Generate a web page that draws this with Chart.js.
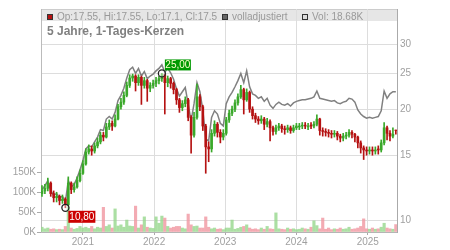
<!DOCTYPE html>
<html>
<head>
<meta charset="utf-8">
<script src="https://cdn.jsdelivr.net/npm/chart.js@4/dist/chart.umd.min.js"></script>
<style>
  html, body { margin: 0; padding: 0; background: #fff; }
  canvas { display: block; }
</style>
</head>
<body>
<canvas id="chart" width="450" height="250"></canvas>
<script>
// candles, one per 15 days
const opens = [
  11.8,12.0,12.2,12.6,11.8,11.5,11.6,11.3,11.4,11.0,
  12.6,12.1,12.3,12.8,13.4,14.2,15.3,15.6,15.4,15.9,
  16.3,17.0,16.8,17.9,18.3,18.0,18.8,20.3,20.9,21.8,
  23.2,24.3,24.6,23.6,24.4,23.2,23.9,22.8,23.2,23.5,
  23.9,24.2,24.8,23.6,24.2,23.5,22.6,21.2,20.2,20.7,
  21.2,19.0,17.0,19.0,21.6,20.3,18.0,15.8,15.6,17.2,
  18.2,17.3,16.8,17.2,18.7,19.5,20.0,20.8,21.6,22.6,
  21.2,22.2,20.0,19.2,18.8,18.6,18.8,18.2,18.5,17.8,
  17.4,17.8,18.0,17.7,17.6,17.8,17.5,17.8,17.9,18.0,
  18.1,17.9,18.1,18.0,18.2,18.8,17.5,17.4,17.3,17.2,
  17.1,17.2,16.9,16.7,16.9,17.0,17.3,17.1,16.8,16.2,
  15.7,15.5,15.4,15.5,15.4,15.6,15.5,16.2,17.8,17.2,
  16.9,17.55
];
const highs = [
  12.4,12.5,13.0,12.7,12.0,11.9,11.7,11.7,11.5,13.1,
  12.7,12.6,13.1,13.7,14.5,15.6,16.0,15.9,16.2,16.7,
  17.3,17.3,18.3,18.7,18.6,19.3,20.6,21.4,22.3,23.7,
  24.8,24.9,24.8,24.8,24.6,24.4,24.1,23.6,24.0,24.4,
  24.6,25.0,24.9,24.6,24.4,23.7,22.8,21.4,21.1,21.6,
  21.4,19.2,19.6,23.4,21.9,20.5,18.2,16.3,17.6,18.6,
  18.4,17.6,17.6,19.0,19.9,20.4,21.2,22.0,23.2,22.8,
  22.7,22.4,20.3,19.5,19.1,19.2,19.0,18.9,18.7,18.0,
  18.1,18.3,18.2,18.0,18.1,18.0,18.1,18.3,18.3,18.4,
  18.4,18.3,18.4,18.5,19.3,18.9,17.8,17.7,17.6,17.5,
  17.5,17.4,17.1,17.2,17.3,17.6,17.5,17.2,16.9,16.4,
  15.9,15.8,15.8,15.8,15.8,15.9,16.5,18.4,18.0,17.5,
  17.8,17.55
];
const lows = [
  11.6,11.8,12.0,11.6,11.2,11.2,11.0,11.1,10.8,10.9,
  11.8,11.9,12.2,12.7,13.3,14.1,15.1,15.0,15.2,15.7,
  16.1,16.4,16.7,17.6,17.5,17.9,18.7,20.0,20.6,21.6,
  22.9,23.8,22.4,23.2,20.6,22.8,21.0,22.3,22.8,23.0,
  23.4,23.8,19.4,23.0,22.8,22.0,20.6,19.6,19.8,20.3,
  18.6,15.2,16.8,18.8,19.8,17.5,13.4,14.4,15.3,16.9,
  16.8,16.2,16.5,17.0,18.4,19.2,19.7,20.5,21.4,19.4,
  21.0,19.6,18.8,18.4,18.2,18.3,17.6,17.9,16.4,17.0,
  17.1,17.5,17.3,17.1,17.3,17.2,17.3,17.6,17.6,17.7,
  17.7,17.6,17.7,17.8,18.0,17.0,16.9,16.9,16.8,16.7,
  16.8,16.5,16.3,16.4,16.6,16.8,16.7,16.3,15.7,15.2,
  14.6,15.0,15.1,15.0,15.1,15.1,15.3,16.0,16.5,16.4,
  16.7,17.1
];
const closes = [
  12.0,12.2,12.6,11.8,11.5,11.6,11.3,11.4,11.0,12.6,
  12.1,12.3,12.8,13.4,14.2,15.3,15.6,15.4,15.9,16.3,
  17.0,16.8,17.9,18.3,18.0,18.8,20.3,20.9,21.8,23.2,
  24.3,24.6,23.6,24.4,23.2,23.9,22.8,23.2,23.5,23.9,
  24.2,24.8,23.6,24.2,23.5,22.6,21.2,20.2,20.7,21.2,
  19.0,17.0,19.0,21.6,20.3,18.0,15.8,15.6,17.2,18.2,
  17.3,16.8,17.2,18.7,19.5,20.0,20.8,21.6,22.6,21.2,
  22.2,20.0,19.2,18.8,18.6,18.8,18.2,18.5,17.8,17.4,
  17.8,18.0,17.7,17.6,17.8,17.5,17.8,18.0,18.0,18.1,
  18.0,18.0,18.0,18.2,18.8,17.5,17.4,17.3,17.2,17.1,
  17.2,16.9,16.7,16.9,17.0,17.3,17.1,16.8,16.2,15.7,
  15.5,15.4,15.5,15.4,15.5,15.5,16.2,17.8,17.2,16.9,
  17.1,17.5
];
// volladjustiert (grey line)
const adjusted = [
  12.1,12.4,12.8,12.0,11.7,11.8,11.5,11.6,11.2,12.8,
  12.3,12.5,13.0,13.7,14.5,15.6,15.9,15.8,16.3,16.8,
  17.6,17.5,18.8,19.1,18.8,19.6,21.1,21.8,22.8,24.3,
  25.6,26.0,25.0,25.8,24.6,25.3,24.2,24.6,24.9,25.4,
  25.8,26.4,25.2,25.8,25.1,24.1,22.7,21.7,22.3,22.9,
  20.6,18.6,20.7,23.6,22.3,19.9,16.6,16.4,19.0,19.8,
  19.4,18.3,18.0,20.7,21.6,22.2,23.0,23.9,25.0,23.6,
  25.4,23.0,22.0,21.8,21.4,21.6,21.0,21.4,20.5,20.1,
  20.6,20.9,20.6,20.5,20.7,20.4,20.8,21.0,21.1,21.2,
  21.2,21.3,21.4,21.6,22.4,21.4,21.3,21.2,21.1,21.0,
  21.1,20.8,20.7,20.9,21.0,21.4,21.3,20.9,19.9,19.4,
  19.1,18.9,19.0,18.9,19.0,19.1,19.8,22.4,21.4,22.0,
  22.3,22.3
];
// volume in thousands
const volumes = [
  12,8,10,7,8,6,7,6,14,62,
  10,7,9,14,10,12,9,14,8,12,
  10,62,14,18,10,58,15,18,12,30,
  15,14,65,10,18,38,12,10,9,38,
  22,40,35,14,10,12,14,14,10,8,
  45,18,14,15,10,10,38,12,8,10,
  7,8,6,10,10,30,7,9,12,14,
  18,10,7,8,6,10,7,14,8,7,
  48,8,7,6,10,7,8,6,7,10,
  8,7,12,28,16,8,35,7,10,6,
  8,7,10,7,8,12,7,8,10,14,
  33,8,7,10,7,8,12,22,10,8,
  7,18.68
];
const yearTicks = [2021, 2022, 2023, 2024, 2025];
const priceTicks = [10, 15, 20, 25, 30];
const volumeTicks = [0, 50, 100, 150];

const firstDay = Date.UTC(2020, 5, 5);
const stepDays = 15;
const days = closes.map((c, i) => firstDay + i * stepDays * 864e5);

const FONT = '"Liberation Sans", Arial, sans-serif';
const RED = '#b51212';
const GREEN = '#3aa82a';
const isUp = i => closes[i] >= opens[i];

const hiIdx = highs.indexOf(Math.max(...highs));
const loIdx = lows.indexOf(Math.min(...lows));
const last = closes.length - 1;

const fmt = v => v.toFixed(2).replace('.', ',');

const overlay = {
  id: 'overlay',
  beforeDraw(chart) {
    const { ctx, chartArea: a } = chart;
    ctx.save();
    ctx.fillStyle = '#e6e6e6';
    ctx.fillRect(a.left, a.top, a.right - a.left, 12);
    ctx.strokeStyle = '#cccccc';
    ctx.lineWidth = 1;
    ctx.beginPath();
    ctx.moveTo(a.left, a.top + 0.5);
    ctx.lineTo(a.right, a.top + 0.5);
    ctx.stroke();
    ctx.restore();
  },
  afterDraw(chart) {
    const { ctx, chartArea: a, scales } = chart;
    ctx.save();
    // legend row
    const items = [
      [a.left + 6, RED, `Op:${opens[last]}, Hi:${highs[last]}, Lo:${lows[last]}, Cl:${closes[last]}`],
      [a.left + 181, '#666666', 'volladjustiert'],
      [a.left + 261, '#dddddd', `Vol: ${volumes[last]}K`]
    ];
    ctx.font = '10px ' + FONT;
    ctx.textBaseline = 'alphabetic';
    items.forEach(([x, col, txt]) => {
      ctx.fillStyle = col;
      ctx.fillRect(x, a.top + 5, 6, 6);
      ctx.strokeStyle = '#333333';
      ctx.lineWidth = 1;
      ctx.strokeRect(x + 0.5, a.top + 5.5, 5, 5);
      ctx.fillStyle = '#999999';
      ctx.fillText(txt, x + 10, a.top + 10.5);
    });
    // title
    ctx.font = 'bold 12px ' + FONT;
    ctx.fillStyle = '#808080';
    ctx.fillText('5 Jahre, 1-Tages-Kerzen', a.left + 6, a.top + 26);

    // high / low labels
    const xs = scales.x, ys = scales.yPrice;
    const hx = xs.getPixelForValue(days[hiIdx]), hy = ys.getPixelForValue(highs[hiIdx]);
    const lx = xs.getPixelForValue(days[loIdx]), ly = ys.getPixelForValue(lows[loIdx]);
    ctx.font = '10px ' + FONT;
    ctx.textAlign = 'center';
    ctx.textBaseline = 'middle';
    ctx.fillStyle = '#009900';
    ctx.fillRect(hx + 3, hy - 14, 26, 11);
    ctx.fillStyle = '#ffffcc';
    ctx.fillText(fmt(highs[hiIdx]), hx + 16, hy - 8);
    ctx.fillStyle = '#cc0000';
    ctx.fillRect(lx + 3, ly + 3, 27, 12);
    ctx.fillStyle = '#ffffff';
    ctx.fillText(fmt(lows[loIdx]), lx + 16.5, ly + 9.5);
    ctx.restore();
  }
};

const tickFont = { family: FONT, size: 10 };

new Chart(document.getElementById('chart'), {
  type: 'bar',
  data: {
    datasets: [
      {
        type: 'scatter',
        data: [{ x: days[hiIdx], y: highs[hiIdx] }, { x: days[loIdx], y: lows[loIdx] }],
        yAxisID: 'yPrice',
        pointRadius: 3.5,
        borderColor: '#222222',
        borderWidth: 1.3,
        backgroundColor: 'rgba(255,255,255,0.4)',
        order: -1
      },
      {
        data: days.map((d, i) => ({ x: d, y: [opens[i], closes[i]] })),
        yAxisID: 'yPrice',
        grouped: false,
        barThickness: 2,
        backgroundColor: c => isUp(c.dataIndex) ? GREEN : RED,
        borderWidth: 0,
        order: 0
      },
      {
        data: days.map((d, i) => ({ x: d, y: [lows[i], highs[i]] })),
        yAxisID: 'yPrice',
        grouped: false,
        barThickness: 1,
        backgroundColor: c => isUp(c.dataIndex) ? GREEN : RED,
        borderWidth: 0,
        order: 1
      },
      {
        type: 'line',
        data: days.map((d, i) => ({ x: d, y: adjusted[i] })),
        yAxisID: 'yPrice',
        borderColor: '#808080',
        borderWidth: 1.5,
        pointRadius: 0,
        tension: 0,
        order: 2
      },
      {
        data: days.map((d, i) => ({ x: d, y: volumes[i] })),
        yAxisID: 'yVol',
        grouped: false,
        barThickness: 2.5,
        backgroundColor: c => isUp(c.dataIndex) ? 'rgba(150,215,140,0.8)' : 'rgba(240,150,160,0.8)',
        borderWidth: 0,
        order: 3
      }
    ]
  },
  options: {
    responsive: false,
    animation: false,
    devicePixelRatio: 1,
    layout: { padding: { top: 7, left: 0, right: 0, bottom: 0 } },
    plugins: { legend: { display: false }, tooltip: { enabled: false } },
    scales: {
      x: {
        type: 'linear',
        min: Date.UTC(2020, 4, 31),
        max: Date.UTC(2025, 4, 31),
        offset: false,
        grid: { color: '#dddddd', offset: false, tickLength: 3, tickColor: '#aaaaaa' },
        border: { color: '#b5b5b5' },
        ticks: {
          color: '#a0a0a0', font: tickFont, padding: 1, maxRotation: 0, autoSkip: false,
          callback: v => new Date(v).getUTCFullYear()
        },
        afterBuildTicks: s => { s.ticks = yearTicks.map(y => ({ value: Date.UTC(y, 0, 1) })); },
        afterFit: s => { s.height = 18; }
      },
      yPrice: {
        type: 'logarithmic',
        axis: 'y',
        position: 'right',
        min: 9.284,
        max: 37.39,
        grid: { color: '#dddddd', drawTicks: false },
        border: { color: '#aaaaaa' },
        ticks: { color: '#a0a0a0', font: tickFont, padding: 3, callback: v => String(v) },
        afterBuildTicks: s => { s.ticks = priceTicks.map(v => ({ value: v })); },
        afterFit: s => { s.width = 53; }
      },
      yVol: {
        type: 'linear',
        axis: 'y',
        position: 'left',
        min: 0,
        max: 560,
        grid: { drawOnChartArea: false, tickLength: 4, tickColor: '#aaaaaa' },
        border: { color: '#bbbbbb' },
        ticks: { color: '#a0a0a0', font: tickFont, padding: 1, callback: v => v + 'K' },
        afterBuildTicks: s => { s.ticks = volumeTicks.map(v => ({ value: v })); },
        afterFit: s => { s.width = 41; }
      }
    }
  },
  plugins: [overlay]
});
</script>
</body>
</html>
